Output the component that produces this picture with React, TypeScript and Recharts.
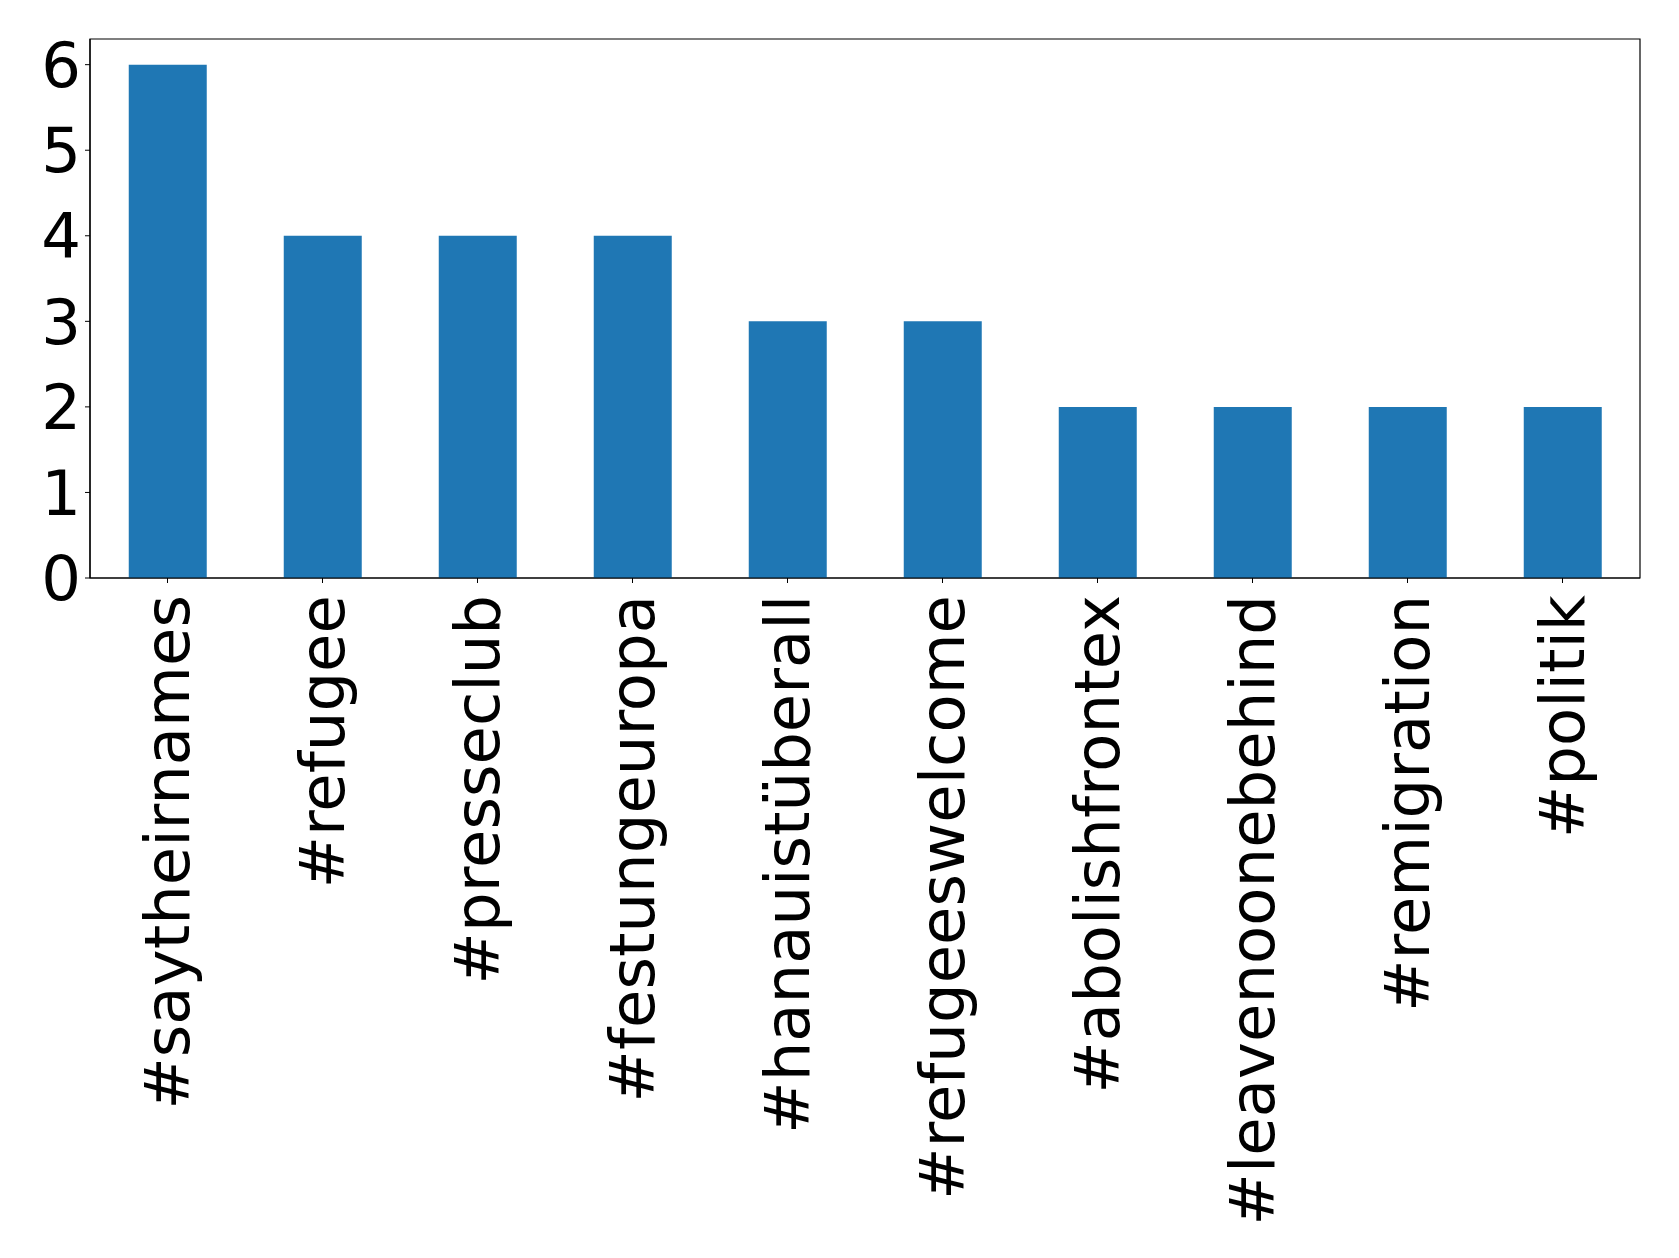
import React from 'react';
import { BarChart, Bar, XAxis, YAxis, ReferenceArea } from 'recharts';

const hashtags = [
  '#saytheirnames',
  '#refugee',
  '#presseclub',
  '#festungeuropa',
  '#hanauistüberall',
  '#refugeeswelcome',
  '#abolishfrontex',
  '#leavenoonebehind',
  '#remigration',
  '#politik',
];
const counts = [6, 4, 4, 4, 3, 3, 2, 2, 2, 2];
const yTicks = [0, 1, 2, 3, 4, 5, 6];
const yMax = 6.3;

const FONT = '"DejaVu Sans", sans-serif';
const FONT_SIZE = 62.5;

// rotated category label, reads bottom to top like matplotlib rotation=90
const RotatedTick = (props: any) => {
  const { x, y, payload } = props;
  return (
    <g transform={`translate(${x},${y})`}>
      <text
        transform="rotate(-90)"
        textAnchor="end"
        dy={21}
        fill="#000"
        fontSize={FONT_SIZE}
        fontFamily={FONT}
      >
        {payload.value}
      </text>
    </g>
  );
};

const App: React.FC = () => {
  const chartData = hashtags.map((tag, i) => ({ name: tag, count: counts[i] }));

  return (
    <div style={{ position: 'absolute', left: 0, top: 0, background: '#fff' }}>
      <BarChart
        width={1679}
        height={1258}
        data={chartData}
        margin={{ top: 39, right: 39, bottom: 0, left: 0 }}
        barCategoryGap="25%"
      >
        <ReferenceArea y1={0} y2={yMax} fill="none" stroke="#000" strokeWidth={1.2} ifOverflow="visible" />
        <XAxis
          dataKey="name"
          height={680}
          interval={0}
          tickSize={5}
          tickMargin={12}
          tickLine={{ stroke: '#000' }}
          axisLine={{ stroke: '#000', strokeWidth: 1.2 }}
          tick={<RotatedTick />}
        />
        <YAxis
          width={90}
          domain={[0, yMax]}
          ticks={yTicks}
          tickSize={5}
          tickMargin={4}
          tickLine={{ stroke: '#000' }}
          axisLine={{ stroke: '#000', strokeWidth: 1.2 }}
          tick={{ fill: '#000', fontSize: FONT_SIZE, fontFamily: FONT }}
        />
        <Bar dataKey="count" fill="#1f77b4" isAnimationActive={false} />
      </BarChart>
    </div>
  );
};

export default App;
